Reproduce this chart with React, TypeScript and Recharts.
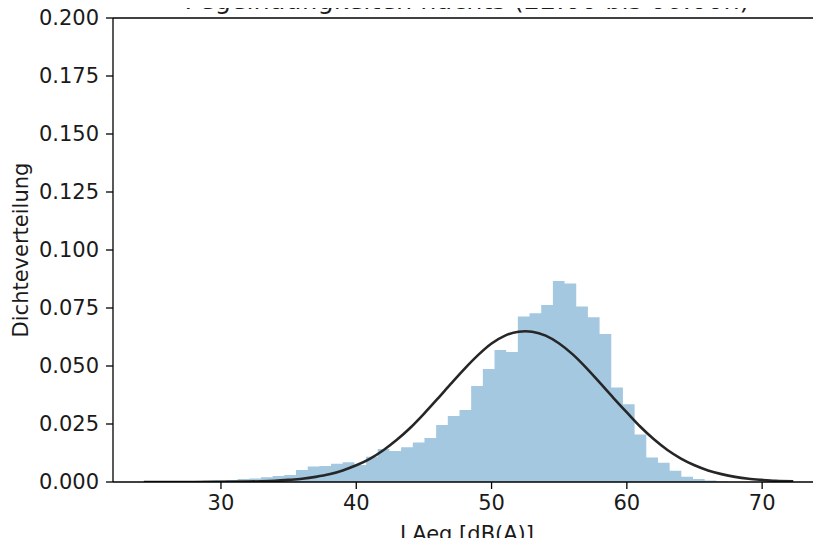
import { ComposedChart, Area, Line, XAxis, YAxis, ReferenceLine, Label } from 'recharts';

// histogram bins (dB(A))
const binStart = 27.78;
const binWidth = 0.863;
const binHeights = [
  0.0003, 0.0005, 0.0007, 0.0009, 0.0013, 0.0015, 0.002, 0.0026, 0.003, 0.0052,
  0.0067, 0.0069, 0.0079, 0.0085, 0.0073, 0.0109, 0.0142, 0.0134, 0.015, 0.017,
  0.019, 0.0246, 0.0284, 0.031, 0.0414, 0.0487, 0.0569, 0.056, 0.0713, 0.0727,
  0.0763, 0.0866, 0.0856, 0.0756, 0.071, 0.0638, 0.0407, 0.0335, 0.0205, 0.0106,
  0.0083, 0.0049, 0.0023, 0.0013, 0.0006, 0.0002,
];

// fitted density curve
const curveX = [
  24.3, 26, 28, 30, 32, 33, 34, 35, 36, 37, 38, 39, 40, 41, 42, 43, 44, 45, 46, 47, 48, 49, 50,
  51, 52, 52.5, 53, 54, 55, 56, 57, 58, 59, 60, 61, 62, 63, 64, 65, 66, 67, 68, 69, 70, 71, 72.3,
];
const curveY = [
  0, 0, 0, 0.0001, 0.0002, 0.0003, 0.0005, 0.0009, 0.0014, 0.0022, 0.0033, 0.005, 0.0072,
  0.01, 0.0137, 0.0182, 0.0234, 0.0294, 0.0358, 0.0424, 0.0488, 0.0547, 0.0597, 0.0631,
  0.0648, 0.065, 0.0648, 0.0631, 0.0597, 0.055, 0.0492, 0.0428, 0.0363, 0.03, 0.0238,
  0.0184, 0.0138, 0.0101, 0.0072, 0.005, 0.0034, 0.0022, 0.0014, 0.0009, 0.0005, 0.0003,
];

const xTicks = [30, 40, 50, 60, 70];
const yTicks = [0, 0.025, 0.05, 0.075, 0.1, 0.125, 0.15, 0.175, 0.2];

const histData = [
  ...binHeights.map((h, i) => ({ x: binStart + i * binWidth, h })),
  { x: binStart + binHeights.length * binWidth, h: 0 },
];
const fitData = curveX.map((x, i) => ({ x, y: curveY[i] }));

const font = '"DejaVu Sans", sans-serif';
const ink = '#1a1a1a';

// y label plus the (cut off) title, drawn in svg coordinates
const SideTexts = ({ viewBox }: any) => {
  const cx = 21;
  const cy = viewBox.y + viewBox.height / 2;
  return (
    <g fontFamily={font} fill={ink}>
      <text x={cx} y={cy} transform={`rotate(-90 ${cx} ${cy})`} textAnchor="middle"
        dominantBaseline="central" fontSize={21}>
        Dichteverteilung
      </text>
      <text x={467} y={9} textAnchor="middle" fontSize={25.5}>
        Pegelhäufigkeiten nachts (22:00 bis 06:00h)
      </text>
    </g>
  );
};

export default function App() {
  return (
    <div style={{ width: 821, height: 546, overflow: 'hidden', margin: -8, background: '#fff' }}>
      <ComposedChart width={821} height={546} margin={{ top: 18, right: 0, bottom: 0, left: 0 }}
        style={{ fontFamily: font }}>
        <XAxis
          dataKey="x"
          type="number"
          domain={[22.02, 74.35]}
          allowDataOverflow
          ticks={xTicks}
          height={64}
          tickSize={7}
          tickMargin={6}
          stroke="#000"
          strokeWidth={1.3}
          tick={{ fontSize: 21, fill: ink }}
        >
          <Label value="LAeq [dB(A)]" position="insideBottom" offset={5} fontSize={21} fill={ink} />
        </XAxis>
        <YAxis
          type="number"
          domain={[0, 0.2]}
          allowDataOverflow
          ticks={yTicks}
          tickFormatter={(v: number) => v.toFixed(3)}
          width={113}
          tickSize={7}
          tickMargin={7}
          stroke="#000"
          strokeWidth={1.3}
          tick={{ fontSize: 21, fill: ink }}
        >
          <Label content={<SideTexts />} />
        </YAxis>
        <ReferenceLine y={0.2} stroke="#000" strokeWidth={1.3} />
        <Area
          data={histData}
          dataKey="h"
          type="stepAfter"
          fill="#a5c8e1"
          fillOpacity={1}
          stroke="none"
          isAnimationActive={false}
        />
        <Line
          data={fitData}
          dataKey="y"
          type="monotone"
          stroke="#262626"
          strokeWidth={2.6}
          dot={false}
          isAnimationActive={false}
        />
      </ComposedChart>
    </div>
  );
}
